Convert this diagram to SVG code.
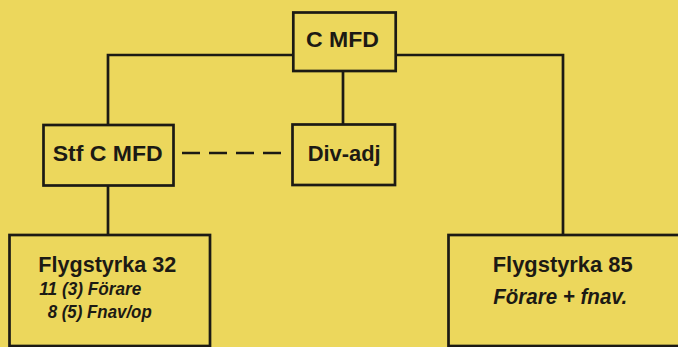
<svg xmlns="http://www.w3.org/2000/svg" width="678" height="347" viewBox="0 0 678 347">
<style>
.box{fill:none;stroke:#1c1a14;stroke-width:2.7}
.ln{fill:none;stroke:#1c1a14;stroke-width:2.7}
.dash{stroke-dasharray:18 9}
.t{font-family:"Liberation Sans",Arial,sans-serif;font-weight:bold;fill:#1c1a14}
.b{font-size:21.5px}
.i{font-style:italic;font-size:19px}
</style>
<rect width="678" height="347" fill="#ecd75c"/>
<g id="connectors">
<polyline class="ln" points="293,55 108,55 108,125"/>
<polyline class="ln" points="396,55 563,55 563,235"/>
<line class="ln" x1="343" y1="71" x2="343" y2="124"/>
<line class="ln" x1="108" y1="186" x2="108" y2="235"/>
<line class="ln dash" x1="182" y1="153" x2="287" y2="153"/>
</g>
<g id="cmfd">
<rect class="box" x="293.3" y="12.5" width="102.4" height="58.5"/>
<text class="t b" x="306" y="47" textLength="73" lengthAdjust="spacingAndGlyphs">C MFD</text>
</g>
<g id="stfcmfd">
<rect class="box" x="43.5" y="125" width="130" height="60.5"/>
<text class="t b" x="52.7" y="160.5" textLength="110" lengthAdjust="spacingAndGlyphs">Stf C MFD</text>
</g>
<g id="divadj">
<rect class="box" x="292.5" y="124.5" width="102.5" height="60.5"/>
<text class="t b" x="307.7" y="161" textLength="73" lengthAdjust="spacingAndGlyphs">Div-adj</text>
</g>
<g id="fs32">
<rect class="box" x="9.5" y="235" width="200.5" height="111"/>
<text class="t b" x="38.3" y="272" textLength="138" lengthAdjust="spacingAndGlyphs">Flygstyrka 32</text>
<text class="t i" x="39.3" y="295" textLength="102" lengthAdjust="spacingAndGlyphs">11 (3) Förare</text>
<text class="t i" x="47.7" y="317.5" textLength="104" lengthAdjust="spacingAndGlyphs">8 (5) Fnav/op</text>
</g>
<g id="fs85">
<rect class="box" x="448.5" y="235" width="240" height="111"/>
<text class="t b" x="492.7" y="272" textLength="140" lengthAdjust="spacingAndGlyphs">Flygstyrka 85</text>
<text class="t i" x="493.3" y="304" textLength="134" lengthAdjust="spacingAndGlyphs" style="font-size:21.5px">Förare + fnav.</text>
</g>
</svg>
